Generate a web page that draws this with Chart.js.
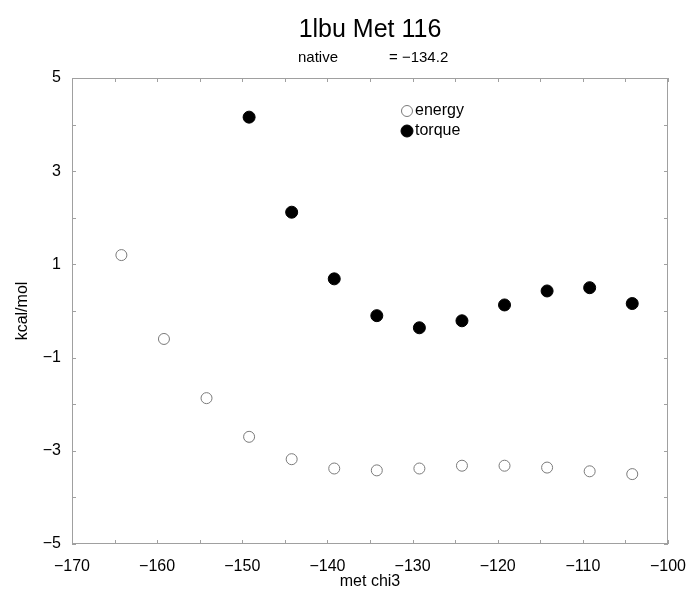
<!DOCTYPE html>
<html lang="en">
<head>
    <meta charset="UTF-8">
    <title>1lbu Met 116</title>
    <script src="https://cdn.jsdelivr.net/npm/chart.js"></script>
    <style>
        body {
            margin: 0;
            background: #fff;
        }
        canvas {
            display: block;
        }
    </style>
</head>
<body>

    <canvas id="chi3Chart" width="689" height="590"></canvas>

    <script>
        // chi3 angles sampled around the native value (-134.2)
        const energyAngles = [-164.2, -159.2, -154.2, -149.2, -144.2, -139.2, -134.2, -129.2, -124.2, -119.2, -114.2, -109.2, -104.2];
        const energyValues = [1.20, -0.60, -1.87, -2.70, -3.18, -3.38, -3.42, -3.38, -3.32, -3.32, -3.36, -3.44, -3.50];

        const torqueAngles = [-149.2, -144.2, -139.2, -134.2, -129.2, -124.2, -119.2, -114.2, -109.2, -104.2];
        const torqueValues = [4.16, 2.12, 0.69, -0.10, -0.36, -0.21, 0.13, 0.43, 0.50, 0.16];

        const seriesNames = ["energy", "torque"];
        const mainTitle = "1lbu Met 116";
        const nativeLabel = "native";
        const nativeValue = "= \u2212134.2";
        const xAxisTitle = "met chi3";
        const yAxisTitle = "kcal/mol";

        const FONT = '"Liberation Sans", Helvetica, Arial, sans-serif';
        const minus = v => String(v).replace("-", "\u2212");

        // box around the plot, inward tick marks on all four sides, titles and legend
        const decorations = {
            id: "decorations",
            afterDraw(chart) {
                const ctx = chart.ctx;
                const a = chart.chartArea;
                const xs = chart.scales.x;
                const ys = chart.scales.y;

                ctx.save();
                ctx.strokeStyle = "#a0a0a0";
                ctx.lineWidth = 1;
                ctx.strokeRect(a.left + 0.5, a.top + 0.5, a.right - a.left - 1, a.bottom - a.top - 1);

                ctx.beginPath();
                for (let v = xs.min; v <= xs.max; v += 5) {
                    const px = Math.round(xs.getPixelForValue(v)) + 0.5;
                    ctx.moveTo(px, a.bottom); ctx.lineTo(px, a.bottom - 4);
                    ctx.moveTo(px, a.top); ctx.lineTo(px, a.top + 4);
                }
                for (let v = ys.min; v <= ys.max; v += 1) {
                    const py = Math.round(ys.getPixelForValue(v)) + 0.5;
                    ctx.moveTo(a.left, py); ctx.lineTo(a.left + 4, py);
                    ctx.moveTo(a.right, py); ctx.lineTo(a.right - 4, py);
                }
                ctx.stroke();

                const cx = (a.left + a.right) / 2;
                ctx.fillStyle = "#000";
                ctx.textBaseline = "middle";
                ctx.textAlign = "center";
                ctx.font = "25px " + FONT;
                ctx.fillText(mainTitle, cx, 30);

                ctx.font = "15px " + FONT;
                ctx.textAlign = "left";
                ctx.fillText(nativeLabel, 298, 58);
                ctx.fillText(nativeValue, 389, 58);

                ctx.textAlign = "center";
                ctx.font = "16px " + FONT;
                ctx.fillText(xAxisTitle, cx, 582);

                ctx.save();
                ctx.translate(23, (a.top + a.bottom) / 2);
                ctx.rotate(-Math.PI / 2);
                ctx.fillText(yAxisTitle, 0, 0);
                ctx.restore();

                // legend
                ctx.font = "16px " + FONT;
                ctx.textAlign = "left";
                chart.data.datasets.forEach((ds, i) => {
                    const lx = a.left + 335;
                    const ly = a.top + 33 + i * 20;
                    ctx.beginPath();
                    ctx.arc(lx, ly, ds.pointRadius, 0, Math.PI * 2);
                    ctx.fillStyle = ds.backgroundColor;
                    ctx.fill();
                    ctx.strokeStyle = ds.borderColor;
                    ctx.lineWidth = ds.borderWidth;
                    ctx.stroke();
                    ctx.fillStyle = "#000";
                    ctx.fillText(ds.label, lx + 8, ly);
                });
                ctx.restore();
            }
        };

        new Chart(document.getElementById("chi3Chart"), {
            type: "scatter",
            data: {
                datasets: [
                    {
                        label: seriesNames[0],
                        data: energyAngles.map((x, i) => ({ x: x, y: energyValues[i] })),
                        backgroundColor: "#ffffff",
                        borderColor: "#7a7a7a",
                        borderWidth: 1,
                        pointRadius: 5.5
                    },
                    {
                        label: seriesNames[1],
                        data: torqueAngles.map((x, i) => ({ x: x, y: torqueValues[i] })),
                        backgroundColor: "#000000",
                        borderColor: "#000000",
                        borderWidth: 1,
                        pointRadius: 6
                    }
                ]
            },
            options: {
                responsive: false,
                animation: false,
                layout: {
                    padding: { left: 0, top: 78, right: 21, bottom: 0 }
                },
                plugins: {
                    legend: { display: false },
                    title: { display: false },
                    tooltip: { enabled: false }
                },
                scales: {
                    x: {
                        type: "linear",
                        min: -170,
                        max: -100,
                        afterFit(scale) {
                            scale.height = 46;
                            scale.paddingLeft = 0;
                            scale.paddingRight = 0;
                        },
                        grid: { display: false, drawTicks: false },
                        border: { display: false },
                        ticks: {
                            stepSize: 10,
                            padding: 13,
                            color: "#000",
                            font: { family: FONT, size: 16 },
                            callback: v => minus(v)
                        }
                    },
                    y: {
                        type: "linear",
                        min: -5,
                        max: 5,
                        afterFit(scale) {
                            scale.width = 72;
                            scale.paddingTop = 0;
                            scale.paddingBottom = 0;
                        },
                        grid: { display: false, drawTicks: false },
                        border: { display: false },
                        ticks: {
                            stepSize: 2,
                            padding: 11,
                            color: "#000",
                            font: { family: FONT, size: 16 },
                            callback: v => minus(v)
                        }
                    }
                }
            },
            plugins: [decorations]
        });
    </script>

</body>
</html>
